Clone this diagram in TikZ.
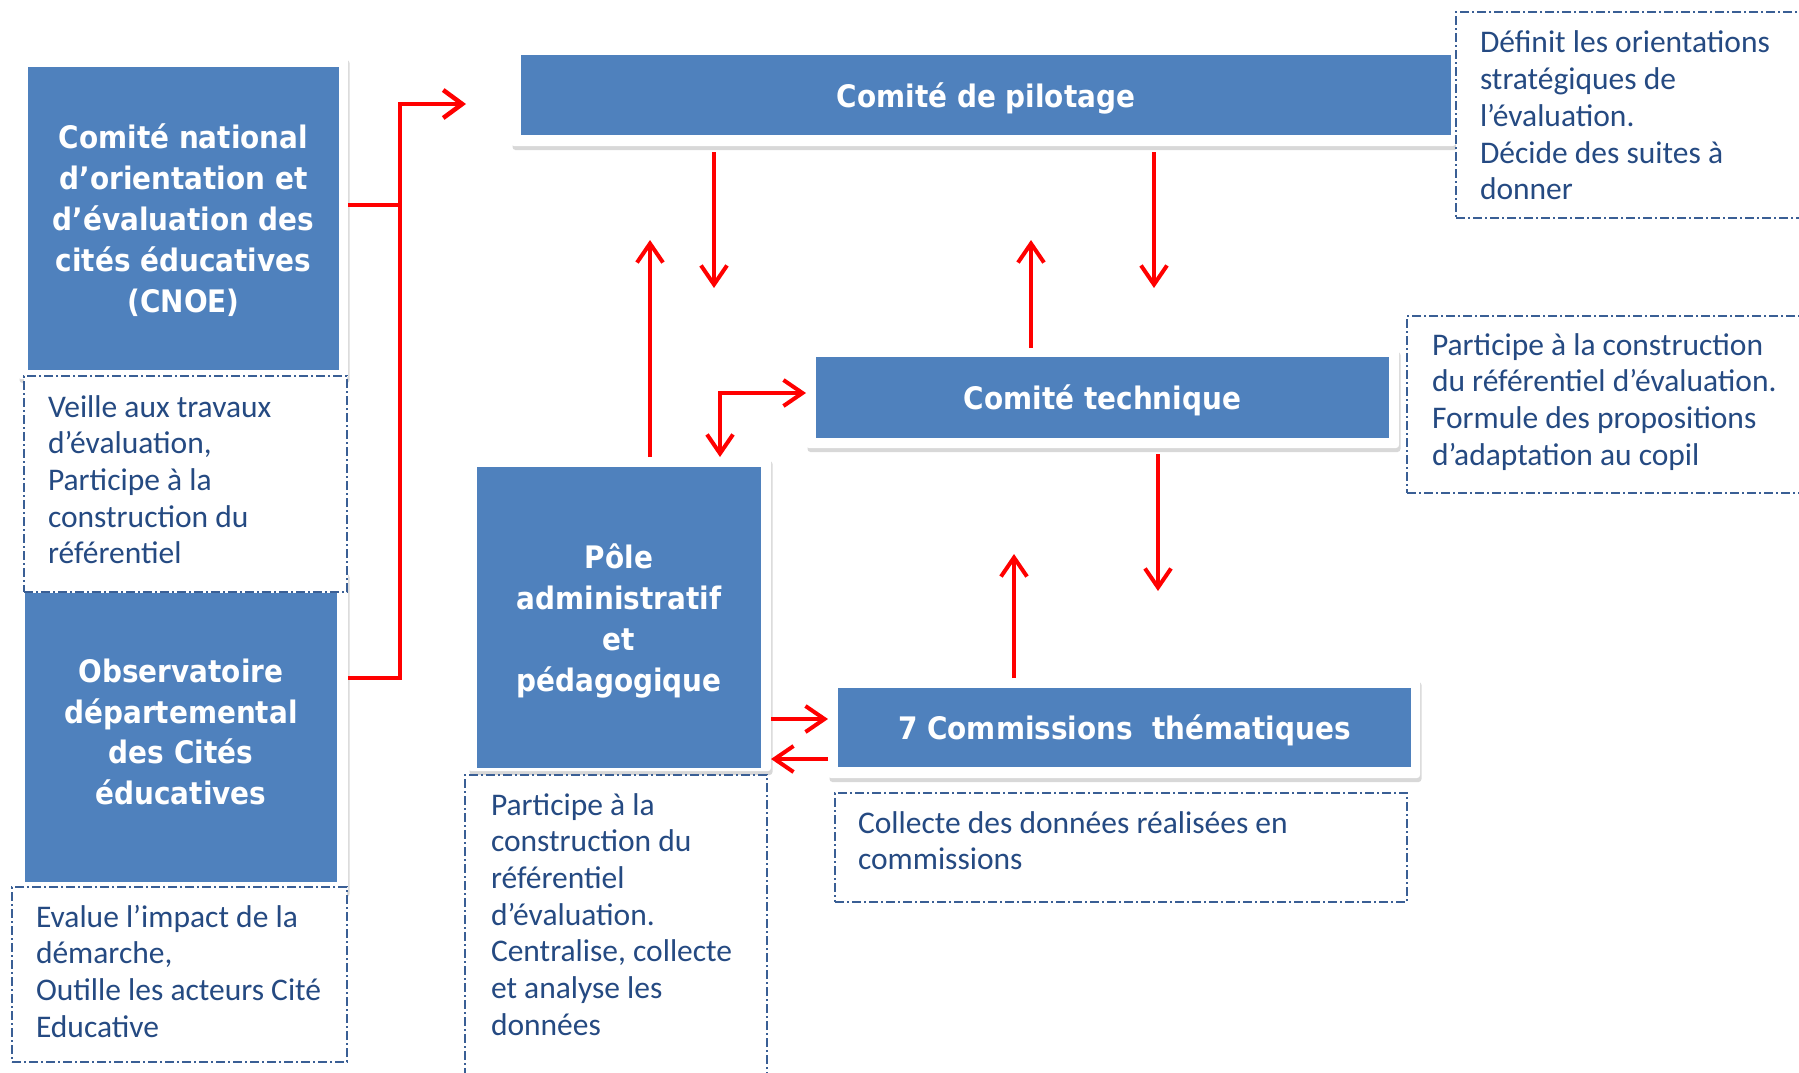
\documentclass[tikz,border=0pt]{standalone}
\usepackage{fontspec}
\setmainfont{Carlito}
\newfontfamily\titlefont[FakeStretch=0.9]{DejaVu Sans}
\usetikzlibrary{arrows.meta,shadows}
\definecolor{boxblue}{HTML}{4F81BD}
\definecolor{txtblue}{HTML}{254A82}
\definecolor{dashblue}{HTML}{3A5F95}
\definecolor{arrred}{HTML}{FF0000}
\begin{document}
\begin{tikzpicture}[x=1pt,y=-1pt,
  every node/.style={inner sep=0pt,outer sep=0pt},
  card/.style={fill=white,rounded corners=3pt,
    drop shadow={shadow xshift=1.5pt,shadow yshift=-4pt,opacity=0.22,fill=black!70}},
  bluebox/.style={fill=boxblue,text=white,align=center,text depth=0pt,
    font=\titlefont\bfseries\fontsize{31}{41}\selectfont},
  titletext/.style={text=white,align=center,
    font=\titlefont\bfseries\fontsize{31}{40.5}\selectfont},
  descbox/.style={draw=dashblue,fill=white,line width=1.3pt,
    dash pattern=on 9pt off 3pt on 2pt off 3pt},
  desctext/.style={anchor=north west,align=left,text=txtblue,
    font=\fontsize{31.5}{36.7}\selectfont},
  arr/.style={draw=arrred,line width=4pt,
    -{Straight Barb[length=19pt,width=26pt]}},
  dblarr/.style={draw=arrred,line width=4pt,
    {Straight Barb[length=19pt,width=26pt]}-{Straight Barb[length=19pt,width=26pt]}},
  busline/.style={draw=arrred,line width=4.5pt}
]
\useasboundingbox (0,0) rectangle (1799,1072);
\clip (0,0) rectangle (1799,1072);

% cards
\node[card,minimum width=330pt,minimum height=323pt] (cnoeC) at (183,217.5) {};
\node[card,minimum width=334pt,minimum height=323pt] (obsC) at (181,731.5) {};
\node[card,minimum width=945pt,minimum height=101pt] (copilC) at (983.5,95.5) {};
\node[card,minimum width=593pt,minimum height=100pt] (techC) at (1102.5,398) {};
\node[card,minimum width=303pt,minimum height=314pt] (poleC) at (619.5,614) {};
\node[card,minimum width=592pt,minimum height=100pt] (commC) at (1124,728) {};

% blue boxes
\node[bluebox,minimum width=311pt,minimum height=303pt] (cnoe) at (183.5,218.5)
  {Comité national\\d’orientation et\\d’évaluation des\\cités éducatives\\(CNOE)};
\node[bluebox,minimum width=312pt,minimum height=289pt] (obs) at (181,737.5) {};
\node[titletext] (obsL) at (181,732)
  {Observatoire\\départemental\\des Cités\\éducatives};
\node[bluebox,minimum width=930pt,minimum height=80pt] (copil) at (986,95)
  {Comité de pilotage};
\node[bluebox,minimum width=573pt,minimum height=81pt] (tech) at (1102.5,397.5)
  {Comité technique};
\node[bluebox,minimum width=284pt,minimum height=301pt] (pole) at (619,617.5)
  {Pôle\\administratif\\et\\pédagogique};
\node[bluebox,minimum width=573pt,minimum height=79pt] (comm) at (1124.5,727.5)
  {7 Commissions\ \ thématiques};

% description boxes
\node[descbox,minimum width=354pt,minimum height=206pt] (copilD) at (1633,115) {};
\node[descbox,minimum width=403pt,minimum height=177pt] (techD) at (1608.5,404.5) {};
\node[descbox,minimum width=323pt,minimum height=216pt] (cnoeD) at (185.5,484) {};
\node[descbox,minimum width=335pt,minimum height=175pt] (obsD) at (179.5,974.5) {};
\node[descbox,minimum width=302pt,minimum height=310pt] (poleD) at (616,930) {};
\node[descbox,minimum width=572pt,minimum height=109pt] (commD) at (1121,847.5) {};

% description texts
\node[desctext] (cnoeT) at (48,391.3)
  {\strut Veille aux travaux\\d’évaluation,\\Participe à la\\construction du\\référentiel};
\node[desctext] (obsT) at (36,901.3)
  {\strut Evalue l’impact de la\\démarche,\\Outille les acteurs Cité\\Educative};
\node[desctext] (poleT) at (491,789.3)
  {\strut Participe à la\\construction du\\référentiel\\d’évaluation.\\Centralise, collecte\\et analyse les\\données};
\node[desctext] (commT) at (858,807.3)
  {\strut Collecte des données réalisées en\\commissions};
\node[desctext] (copilT) at (1480,27.3)
  {\strut Définit les orientations\\stratégiques de\\l’évaluation.\\Décide des suites à\\donner};
\node[desctext] (techT) at (1432,329.3)
  {\strut Participe à la construction\\du référentiel d’évaluation.\\Formule des propositions\\d’adaptation au copil};

% connector coordinates
\coordinate (j1) at (400,205);
\coordinate (j2) at (400,678);
\coordinate (busTop) at (400,104);
\coordinate (busEnd) at (466,104);
\coordinate (d1) at (714,288);
\coordinate (u1) at (650,240);
\coordinate (u2) at (1031,240);
\coordinate (d2) at (1154,288);
\coordinate (l1) at (720,393);
\coordinate (d3) at (1158,591);
\coordinate (u3) at (1014,554);
\coordinate (r1) at (800,719);
\coordinate (r2) at (800,759);

% bus from CNOE and Observatoire
\draw[busline] (j1 -| cnoeC.east) -- (j1);
\draw[busline,-{Straight Barb[length=19pt,width=28pt]}] (j2 -| obsC.east) -- (j2) -- (busTop) -- (busEnd);

% arrows
\draw[arr] ([yshift=-6pt]d1 |- copilC.south) -- (d1);
\draw[arr] ([yshift=-6pt]d2 |- copilC.south) -- (d2);
\draw[arr] (u1 |- poleC.north) -- (u1);
\draw[arr] (u2 |- techC.north) -- (u2);
\draw[dblarr] (l1 -| techC.west) -- (l1) -- (l1 |- poleC.north);
\draw[arr] ([yshift=-6pt]d3 |- techC.south) -- (d3);
\draw[arr] (u3 |- commC.north) -- (u3);
\draw[arr] (poleC.east |- r1) -- (commC.west |- r1);
\draw[arr] (commC.west |- r2) -- (poleC.east |- r2);
\end{tikzpicture}
\end{document}
